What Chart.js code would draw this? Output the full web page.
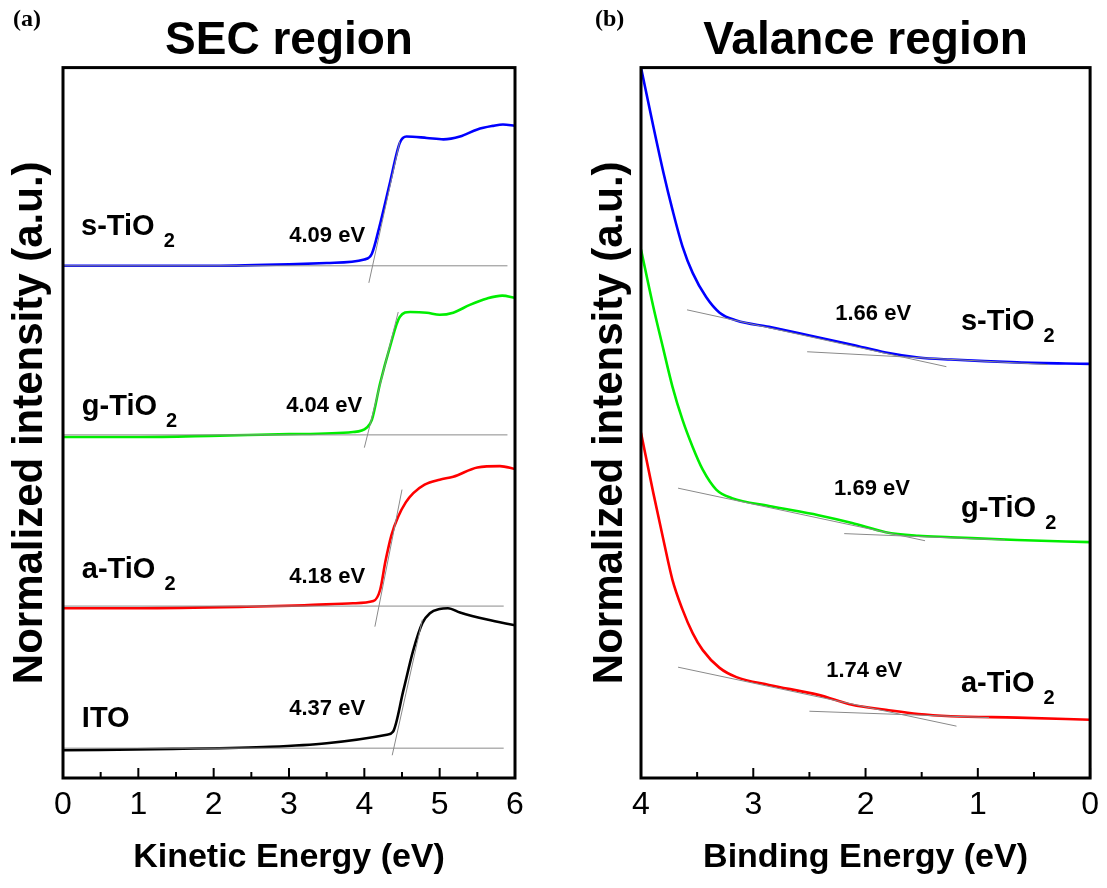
<!DOCTYPE html>
<html>
<head>
<meta charset="utf-8">
<script src="https://cdn.jsdelivr.net/npm/chart.js@4.4.0/dist/chart.umd.min.js"></script>
<style>
  body { margin: 0; background: #fff; }
  #wrap { position: relative; display: flex; width: 1107px; height: 888px; }
  .tag { position: absolute; top: 5px; font: bold 24px "Liberation Serif", "Times New Roman", serif; color: #000; }
</style>
</head>
<body>
<div id="wrap">
  <canvas id="secChart" width="553" height="888"></canvas>
  <canvas id="vbChart" width="554" height="888"></canvas>
  <div class="tag" style="left:13px">(a)</div>
  <div class="tag" style="left:595px">(b)</div>
</div>
<script>
// ---- SEC region (kinetic energy, eV) ----
const secX_s = [0, 1, 2, 3, 3.5, 4.0, 4.1, 4.2, 4.34, 4.47, 4.56, 4.83, 5.05, 5.27, 5.5, 5.71, 5.84, 6.0];
const secY_s = [7.21, 7.21, 7.21, 7.23, 7.25, 7.30, 7.38, 7.76, 8.38, 8.94, 9.03, 9.01, 8.99, 9.03, 9.13, 9.18, 9.20, 9.18];
const secX_g = [0, 1, 2.08, 3, 3.85, 4.03, 4.1, 4.21, 4.34, 4.47, 4.61, 4.83, 5.0, 5.18, 5.4, 5.63, 5.83, 6.0];
const secY_g = [4.80, 4.80, 4.82, 4.84, 4.87, 4.93, 5.04, 5.56, 6.07, 6.49, 6.56, 6.55, 6.52, 6.55, 6.66, 6.75, 6.79, 6.76];
const secX_a = [0, 1, 2.44, 3.2, 3.85, 4.12, 4.21, 4.28, 4.36, 4.45, 4.55, 4.65, 4.8, 5.0, 5.18, 5.5, 5.8, 6.0];
const secY_a = [2.39, 2.39, 2.41, 2.43, 2.46, 2.49, 2.65, 3.05, 3.42, 3.68, 3.88, 4.01, 4.13, 4.20, 4.24, 4.37, 4.39, 4.35];
const secX_ito = [0, 1.46, 2.75, 3.5, 4.3, 4.38, 4.52, 4.65, 4.77, 4.87, 5.0, 5.11, 5.27, 5.63, 6.0];
const secY_ito = [0.39, 0.41, 0.44, 0.49, 0.61, 0.65, 1.24, 1.80, 2.18, 2.32, 2.38, 2.39, 2.33, 2.23, 2.15];
// tangent lines [x1, y1, x2, y2]
const secTangents = [
  [0, 7.21, 5.9, 7.21], [4.06, 6.97, 4.47, 8.96],
  [0, 4.83, 5.9, 4.83], [4.0, 4.65, 4.45, 6.56],
  [0, 2.42, 5.85, 2.42], [4.14, 2.13, 4.5, 4.06],
  [0, 0.42, 5.85, 0.42], [4.37, 0.32, 4.77, 2.23]
];
const secCutoffs = ['4.09 eV', '4.04 eV', '4.18 eV', '4.37 eV'];

// ---- Valence region (binding energy, eV) ----
const vbX_s = [4.0, 3.89, 3.8, 3.72, 3.63, 3.54, 3.42, 3.30, 3.15, 2.86, 2.53, 2.12, 1.82, 1.53, 1.24, 0.65, 0];
const vbY_s = [10.0, 9.17, 8.52, 8.0, 7.48, 7.11, 6.77, 6.55, 6.44, 6.35, 6.24, 6.10, 5.99, 5.92, 5.89, 5.85, 5.83];
const vbX_g = [4.0, 3.89, 3.8, 3.72, 3.63, 3.54, 3.45, 3.33, 3.19, 2.86, 2.42, 2.12, 1.82, 1.53, 1.24, 0.65, 0];
const vbY_g = [7.44, 6.63, 6.03, 5.51, 5.04, 4.66, 4.34, 4.06, 3.94, 3.83, 3.70, 3.59, 3.46, 3.41, 3.39, 3.35, 3.32];
const vbX_a = [4.0, 3.89, 3.8, 3.72, 3.63, 3.54, 3.45, 3.30, 3.15, 2.86, 2.42, 2.12, 1.82, 1.53, 1.24, 0.65, 0];
const vbY_a = [4.86, 4.01, 3.35, 2.79, 2.37, 2.04, 1.80, 1.55, 1.42, 1.31, 1.17, 1.03, 0.96, 0.90, 0.87, 0.85, 0.82];
const vbTangents = [
  [3.59, 6.59, 1.28, 5.79], [2.52, 6.0, 0.38, 5.82],
  [3.67, 4.08, 1.47, 3.34], [2.19, 3.44, 0.76, 3.35],
  [3.67, 1.56, 1.19, 0.73], [2.5, 0.94, 0.9, 0.85]
];
const vbOnsets = ['1.66 eV', '1.69 eV', '1.74 eV'];

const FONT = '"Liberation Sans", Arial, sans-serif';

function pts(xs, ys) {
  return xs.map((x, i) => ({ x: x, y: ys[i] }));
}

function curve(xs, ys, color) {
  return {
    data: pts(xs, ys),
    borderColor: color,
    borderWidth: 2.6,
    pointRadius: 0,
    cubicInterpolationMode: 'monotone',
    order: 2
  };
}

function tangentSets(list) {
  return list.map(t => ({
    data: [{ x: t[0], y: t[1] }, { x: t[2], y: t[3] }],
    borderColor: '#8a8a8a',
    borderWidth: 1,
    pointRadius: 0,
    order: 1
  }));
}

// text labels inside the plot, positioned in data units
const curveLabels = {
  id: 'curveLabels',
  afterDatasetsDraw(chart, args, opts) {
    const { ctx, scales: { x, y } } = chart;
    ctx.save();
    ctx.fillStyle = '#000';
    ctx.textBaseline = 'alphabetic';
    opts.items.forEach(it => {
      let px = x.getPixelForValue(it.x);
      const py = y.getPixelForValue(it.y);
      ctx.font = 'bold ' + it.size + 'px ' + FONT;
      const w = ctx.measureText(it.text).width;
      if (it.align === 'right') px -= w;
      ctx.textAlign = 'left';
      ctx.fillText(it.text, px, py);
      if (it.sub) {
        ctx.font = 'bold 20px ' + FONT;
        ctx.fillText(it.sub, px + w + 9, py + 12);
      }
    });
    ctx.restore();
  }
};

// box frame and inward tick marks
const frameTicks = {
  id: 'frameTicks',
  afterDraw(chart) {
    const { ctx, chartArea: a, scales: { x } } = chart;
    ctx.save();
    ctx.strokeStyle = '#000';
    ctx.lineWidth = 2;
    for (let v = 0; v <= x.max + 1e-9; v += 0.5) {
      const px = x.getPixelForValue(v);
      const len = Number.isInteger(v) ? 10 : 6;
      ctx.beginPath();
      ctx.moveTo(px, a.bottom);
      ctx.lineTo(px, a.bottom - len);
      ctx.stroke();
    }
    ctx.lineWidth = 3;
    ctx.strokeRect(a.left, a.top, a.right - a.left, a.bottom - a.top);
    ctx.restore();
  }
};

function makeChart(id, cfg) {
  return new Chart(document.getElementById(id), {
    type: 'line',
    data: { datasets: cfg.datasets },
    options: {
      responsive: false,
      animation: false,
      layout: { padding: { left: 0, right: cfg.padRight, top: 0, bottom: 0 } },
      scales: {
        x: {
          type: 'linear',
          min: cfg.xMin,
          max: cfg.xMax,
          reverse: cfg.reverse,
          afterFit: s => { s.height = 110; },
          grid: { display: false, drawTicks: false },
          border: { display: false },
          ticks: {
            stepSize: 1,
            padding: 8,
            color: '#000',
            font: { family: FONT, size: 32 }
          },
          title: {
            display: true,
            text: cfg.xTitle,
            color: '#000',
            font: { family: FONT, size: 34, weight: 'bold' },
            padding: { top: 0, bottom: 10 }
          }
        },
        y: {
          min: 0,
          max: 10,
          afterFit: s => { s.width = cfg.yWidth; },
          grid: { display: false, drawTicks: false },
          border: { display: false },
          ticks: { display: false },
          title: {
            display: true,
            text: 'Normalized intensity (a.u.)',
            color: '#000',
            font: { family: FONT, size: 42, weight: 'bold' },
            padding: { top: cfg.yTitlePad, bottom: 0 }
          }
        }
      },
      plugins: {
        legend: { display: false },
        tooltip: { enabled: false },
        title: {
          display: true,
          fullSize: false,
          text: cfg.title,
          color: '#000',
          font: { family: FONT, size: 46, weight: 'bold', lineHeight: 1.1 },
          padding: { top: 16, bottom: 1 }
        },
        curveLabels: { items: cfg.labels }
      }
    },
    plugins: [curveLabels, frameTicks]
  });
}

makeChart('secChart', {
  title: 'SEC region',
  xTitle: 'Kinetic Energy (eV)',
  xMin: 0, xMax: 6, reverse: false,
  yWidth: 63, yTitlePad: 5, padRight: 38,
  datasets: tangentSets(secTangents).concat([
    curve(secX_s, secY_s, '#0000ff'),
    curve(secX_g, secY_g, '#00ee00'),
    curve(secX_a, secY_a, '#ff0000'),
    curve(secX_ito, secY_ito, '#000000')
  ]),
  labels: [
    { text: 's-TiO', sub: '2', x: 0.24, y: 7.65, size: 29 },
    { text: secCutoffs[0], x: 4.01, y: 7.55, size: 22, align: 'right' },
    { text: 'g-TiO', sub: '2', x: 0.25, y: 5.11, size: 29 },
    { text: secCutoffs[1], x: 3.97, y: 5.15, size: 22, align: 'right' },
    { text: 'a-TiO', sub: '2', x: 0.25, y: 2.82, size: 29 },
    { text: secCutoffs[2], x: 4.01, y: 2.75, size: 22, align: 'right' },
    { text: 'ITO', x: 0.25, y: 0.72, size: 29 },
    { text: secCutoffs[3], x: 4.01, y: 0.89, size: 22, align: 'right' }
  ]
});

makeChart('vbChart', {
  title: 'Valance region',
  xTitle: 'Binding Energy (eV)',
  xMin: 0, xMax: 4, reverse: true,
  yWidth: 88, yTitlePad: 32, padRight: 14,
  datasets: tangentSets(vbTangents).concat([
    curve(vbX_s, vbY_s, '#0000ff'),
    curve(vbX_g, vbY_g, '#00ee00'),
    curve(vbX_a, vbY_a, '#ff0000')
  ]),
  labels: [
    { text: vbOnsets[0], x: 2.27, y: 6.45, size: 22 },
    { text: 's-TiO', sub: '2', x: 1.15, y: 6.31, size: 29 },
    { text: vbOnsets[1], x: 2.28, y: 3.99, size: 22 },
    { text: 'g-TiO', sub: '2', x: 1.15, y: 3.68, size: 29 },
    { text: vbOnsets[2], x: 2.35, y: 1.42, size: 22 },
    { text: 'a-TiO', sub: '2', x: 1.15, y: 1.21, size: 29 }
  ]
});
</script>
</body>
</html>
